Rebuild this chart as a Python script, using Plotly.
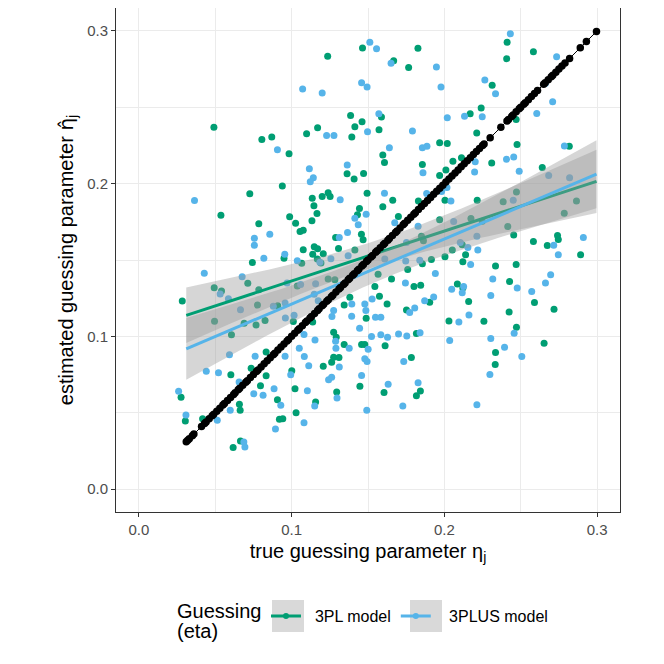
import numpy as np
import plotly.graph_objects as go

# true vs estimated guessing parameter
pl3_true = [0.1464, 0.1236, 0.0491, 0.0805, 0.0870, 0.0983, 0.1098, 0.1170, 0.1386, 0.1414,
            0.1461, 0.1394, 0.1363, 0.1409, 0.1471, 0.0939, 0.0726, 0.0537, 0.1135, 0.1146,
            0.1200, 0.1239, 0.1252, 0.1166, 0.1133, 0.0987, 0.1026, 0.0785, 0.1055, 0.1076,
            0.1288, 0.1457, 0.1468, 0.1444, 0.1431, 0.1494, 0.1076, 0.1148, 0.1170, 0.1307,
            0.1414, 0.1138, 0.0950, 0.0743, 0.1827, 0.1668, 0.1766, 0.2411, 0.2408, 0.2583,
            0.2313, 0.2241, 0.2169, 0.1588, 0.1572, 0.2212, 0.2476, 0.1969, 0.2019, 0.1597,
            0.1608, 0.1856, 0.2056, 0.2112, 0.2310, 0.2470, 0.2818, 0.2641, 0.1969, 0.2010,
            0.1662, 0.1597, 0.1699, 0.1830, 0.2004, 0.2215, 0.1969, 0.2174, 0.2472, 0.2385,
            0.2785, 0.2865, 0.2415, 0.2454, 0.2583, 0.2741, 0.2746, 0.2674, 0.2892, 0.1850,
            0.1863, 0.2052, 0.2117, 0.2139, 0.2004, 0.1915, 0.2121, 0.2335, 0.2470, 0.0284,
            0.0493, 0.0541, 0.0713, 0.0785, 0.1037, 0.0776, 0.0909, 0.0495, 0.0689, 0.0767,
            0.0826, 0.1011, 0.1138, 0.0606, 0.1283, 0.1239, 0.1381, 0.1344, 0.1275, 0.1292,
            0.1344, 0.1458, 0.1479, 0.1275, 0.1310, 0.1262, 0.1207, 0.0833, 0.0735, 0.0833,
            0.0602, 0.0796, 0.1022, 0.1295, 0.1447, 0.0276, 0.0907, 0.0658, 0.0663, 0.1157,
            0.1029, 0.0920, 0.0942, 0.0304, 0.0417, 0.0665, 0.0617, 0.1066, 0.1168, 0.1192,
            0.1488, 0.1001, 0.2030, 0.1612, 0.1605, 0.1856, 0.1760, 0.2427, 0.2085, 0.2121,
            0.1801, 0.1845, 0.1575, 0.1625, 0.1545, 0.1654, 0.1752, 0.1904, 0.2159, 0.2590,
            0.2718, 0.2424, 0.2259, 0.2472, 0.1817, 0.1784, 0.2335, 0.2333, 0.2653, 0.1817,
            0.1843, 0.1566, 0.1207, 0.2248]
pl3_est = [0.2888, 0.2834, 0.2370, 0.2289, 0.2305, 0.2196, 0.2327, 0.2366, 0.2446, 0.2372,
           0.2405, 0.2305, 0.2065, 0.2031, 0.2067, 0.1985, 0.1933, 0.1793, 0.1904, 0.1855,
           0.1915, 0.1941, 0.1915, 0.1804, 0.1757, 0.1783, 0.1741, 0.1737, 0.1687, 0.1695,
           0.1647, 0.1669, 0.1633, 0.1837, 0.1796, 0.1937, 0.1567, 0.1587, 0.1574, 0.1576,
           0.1565, 0.1538, 0.1512, 0.1484, 0.2886, 0.2805, 0.2760, 0.2925, 0.2818, 0.2864,
           0.2645, 0.2496, 0.2457, 0.2436, 0.2353, 0.2331, 0.2257, 0.2268, 0.2263, 0.2188,
           0.2139, 0.2126, 0.2146, 0.2170, 0.2135, 0.2420, 0.2244, 0.2105, 0.2054, 0.2090,
           0.1891, 0.1848, 0.1785, 0.1887, 0.1891, 0.1891, 0.1763, 0.1772, 0.1946, 0.1881,
           0.1806, 0.1887, 0.1719, 0.1663, 0.1621, 0.1661, 0.1634, 0.1595, 0.1535, 0.1656,
           0.1626, 0.1565, 0.1600, 0.1535, 0.1522, 0.1504, 0.1489, 0.1460, 0.1471, 0.1232,
           0.1319, 0.1297, 0.1347, 0.1306, 0.1329, 0.1205, 0.1201, 0.1099, 0.1086, 0.1075,
           0.1104, 0.1097, 0.1094, 0.1010, 0.1371, 0.1375, 0.1256, 0.1205, 0.1027, 0.0994,
           0.0947, 0.0947, 0.0947, 0.0864, 0.0862, 0.0831, 0.0805, 0.0897, 0.0792, 0.0742,
           0.0748, 0.0677, 0.0657, 0.0635, 0.0673, 0.0601, 0.0585, 0.0555, 0.0516, 0.0570,
           0.0500, 0.0457, 0.0461, 0.0446, 0.0461, 0.0315, 0.0272, 0.1478, 0.1506, 0.1480,
           0.1119, 0.0775, 0.1101, 0.0938, 0.0633, 0.1476, 0.1437, 0.1360, 0.1343, 0.1317,
           0.1326, 0.1334, 0.1262, 0.1212, 0.1327, 0.1375, 0.1173, 0.1223, 0.1228, 0.1221,
           0.1177, 0.1160, 0.1099, 0.1060, 0.1019, 0.0862, 0.0895, 0.0816, 0.0955, 0.0611,
           0.0642, 0.1406, 0.1541, 0.1754]

plus_true = [0.1512, 0.1072, 0.1200, 0.1458, 0.1494, 0.1229, 0.1277, 0.0907, 0.1497, 0.1116,
             0.1142, 0.1122, 0.1364, 0.0364, 0.1318, 0.1488, 0.1414, 0.1436, 0.1366, 0.1312,
             0.0857, 0.0756, 0.0756, 0.0818, 0.0955, 0.1037, 0.1257, 0.1370, 0.2432, 0.1556,
             0.1651, 0.1948, 0.2265, 0.2335, 0.1978, 0.2735, 0.2661, 0.2709, 0.2605, 0.1571,
             0.1791, 0.2019, 0.2132, 0.2248, 0.1640, 0.1856, 0.1886, 0.1860, 0.2202, 0.2198,
             0.2407, 0.2454, 0.2490, 0.2786, 0.1884, 0.1608, 0.1982, 0.2043, 0.2017, 0.2451,
             0.2683, 0.2820, 0.2910, 0.2746, 0.2716, 0.2061, 0.1828, 0.2213, 0.2154, 0.2219,
             0.2104, 0.1752, 0.1610, 0.1675, 0.2172, 0.0428, 0.0676, 0.0532, 0.0586, 0.0665,
             0.0970, 0.0880, 0.0957, 0.0959, 0.1016, 0.1157, 0.1174, 0.1275, 0.1264, 0.1393,
             0.1394, 0.1479, 0.1486, 0.1445, 0.1288, 0.1290, 0.1377, 0.1081, 0.1153, 0.1050,
             0.1083, 0.0957, 0.1112, 0.1312, 0.1479, 0.1494, 0.1242, 0.1262, 0.1458, 0.1297,
             0.1492, 0.0593, 0.0761, 0.0521, 0.0441, 0.0994, 0.0656, 0.0752, 0.0813, 0.0885,
             0.0929, 0.1103, 0.1151, 0.0598, 0.0513, 0.0260, 0.0308, 0.0894, 0.1081, 0.0687,
             0.0694, 0.1527, 0.1549, 0.1584, 0.2095, 0.2161, 0.1523, 0.1584, 0.1628, 0.1700,
             0.1754, 0.1841, 0.2035, 0.2304, 0.2457, 0.2394, 0.2507, 0.1734, 0.2298, 0.1632,
             0.1828, 0.1728, 0.2213, 0.1941, 0.1745, 0.2048, 0.2126, 0.2117, 0.2317, 0.2477,
             0.2572, 0.2662, 0.2696, 0.2304, 0.1930, 0.1871, 0.1806, 0.1773, 0.1185, 0.1747,
             0.1839, 0.1148, 0.1059, 0.1501]
plus_est = [0.2925, 0.2620, 0.2594, 0.2660, 0.2633, 0.2315, 0.2315, 0.2222, 0.2340, 0.2098,
            0.2039, 0.2013, 0.2122, 0.1889, 0.1894, 0.1800, 0.1773, 0.1730, 0.1680, 0.1647,
            0.1669, 0.1643, 0.1597, 0.1512, 0.1538, 0.1495, 0.1508, 0.1528, 0.2981, 0.2883,
            0.2788, 0.2764, 0.2679, 0.2588, 0.2632, 0.2831, 0.2655, 0.2536, 0.2459, 0.2457,
            0.2344, 0.2431, 0.2442, 0.2438, 0.2235, 0.2235, 0.2244, 0.2072, 0.2144, 0.2076,
            0.2159, 0.2174, 0.2081, 0.2246, 0.1935, 0.1937, 0.1948, 0.1887, 0.1974, 0.1891,
            0.2054, 0.2039, 0.1647, 0.1535, 0.1597, 0.1752, 0.1721, 0.1656, 0.1582, 0.1565,
            0.1615, 0.1615, 0.1506, 0.1744, 0.1471, 0.1413, 0.1391, 0.1277, 0.1247, 0.1175,
            0.1349, 0.1197, 0.1219, 0.1121, 0.1138, 0.1345, 0.1234, 0.1169, 0.1130, 0.1132,
            0.1212, 0.1212, 0.1169, 0.1053, 0.0968, 0.0922, 0.0922, 0.1012, 0.0977, 0.0922,
            0.0868, 0.0870, 0.0807, 0.0799, 0.0853, 0.0836, 0.0716, 0.0733, 0.0744, 0.0596,
            0.0516, 0.0879, 0.0870, 0.0761, 0.0771, 0.0748, 0.0701, 0.0624, 0.0614, 0.0657,
            0.0549, 0.0644, 0.0544, 0.0516, 0.0451, 0.0640, 0.0485, 0.0394, 0.0435, 0.0309,
            0.0276, 0.1244, 0.1125, 0.1125, 0.1094, 0.1140, 0.0999, 0.1010, 0.0994, 0.1016,
            0.1003, 0.1023, 0.0973, 0.0986, 0.1020, 0.0929, 0.0868, 0.0836, 0.0751, 0.0686,
            0.0696, 0.0544, 0.0553, 0.1411, 0.1349, 0.1308, 0.1326, 0.1286, 0.1375, 0.1317,
            0.1293, 0.1349, 0.1404, 0.1267, 0.1258, 0.1234, 0.1186, 0.1156, 0.1486, 0.1493,
            0.1499, 0.1275, 0.1340, 0.0916]

# generating values (true = true), drawn as the reference diagonal
true_eta = [0.031, 0.032, 0.033, 0.035, 0.036, 0.041, 0.043, 0.044, 0.046, 0.048,
            0.049, 0.051, 0.053, 0.055, 0.056, 0.058, 0.060, 0.062, 0.063, 0.065,
            0.066, 0.068, 0.070, 0.071, 0.073, 0.075, 0.077, 0.078, 0.080, 0.082,
            0.084, 0.086, 0.088, 0.089, 0.091, 0.093, 0.095, 0.097, 0.098, 0.100,
            0.102, 0.104, 0.105, 0.107, 0.109, 0.110, 0.112, 0.113, 0.115, 0.117,
            0.118, 0.120, 0.121, 0.123, 0.124, 0.126, 0.127, 0.129, 0.131, 0.132,
            0.134, 0.135, 0.137, 0.138, 0.140, 0.141, 0.143, 0.144, 0.146, 0.147,
            0.149, 0.150, 0.152, 0.153, 0.155, 0.156, 0.158, 0.160, 0.161, 0.163,
            0.164, 0.166, 0.168, 0.169, 0.171, 0.173, 0.174, 0.176, 0.178, 0.180,
            0.181, 0.183, 0.185, 0.187, 0.189, 0.191, 0.193, 0.195, 0.197, 0.199,
            0.201, 0.203, 0.205, 0.207, 0.209, 0.211, 0.213, 0.215, 0.217, 0.219,
            0.221, 0.223, 0.225, 0.226, 0.230, 0.237, 0.241, 0.242, 0.244, 0.245,
            0.247, 0.249, 0.250, 0.252, 0.253, 0.255, 0.257, 0.259, 0.261, 0.265,
            0.266, 0.268, 0.270, 0.271, 0.273, 0.275, 0.277, 0.279, 0.282, 0.289,
            0.293, 0.2996]

GREEN = "#009E73"
BLUE = "#56B4E9"
FONT = "Liberation Sans, Arial, sans-serif"
KEY_GREY = "#D9D9D9"


def lm_smooth(x, y, xs, t=1.97):
    # geom_smooth(method = "lm"): fitted line with 95% confidence band
    x = np.asarray(x)
    y = np.asarray(y)
    b, a = np.polyfit(x, y, 1)
    n = len(x)
    resid = y - (a + b * x)
    s = np.sqrt(np.sum(resid ** 2) / (n - 2))
    sxx = np.sum((x - x.mean()) ** 2)
    fit = a + b * xs
    se = s * np.sqrt(1.0 / n + (xs - x.mean()) ** 2 / sxx)
    return fit, fit - t * se, fit + t * se


xs = np.linspace(min(true_eta), max(true_eta), 80)

fig = go.Figure()

fig.add_trace(go.Scatter(x=pl3_true, y=pl3_est, mode="markers",
                         marker=dict(color=GREEN, size=7), showlegend=False))
fig.add_trace(go.Scatter(x=plus_true, y=plus_est, mode="markers",
                         marker=dict(color=BLUE, size=7), showlegend=False))

for xv, yv, col in [(pl3_true, pl3_est, GREEN), (plus_true, plus_est, BLUE)]:
    fit, lo, hi = lm_smooth(xv, yv, xs)
    fig.add_trace(go.Scatter(x=np.concatenate([xs, xs[::-1]]),
                             y=np.concatenate([hi, lo[::-1]]),
                             fill="toself", fillcolor="rgba(153,153,153,0.4)",
                             line=dict(width=0), mode="lines",
                             hoverinfo="skip", showlegend=False))
    fig.add_trace(go.Scatter(x=xs, y=fit, mode="lines",
                             line=dict(color=col, width=3), showlegend=False))

fig.add_trace(go.Scatter(x=true_eta, y=true_eta, mode="lines+markers",
                         line=dict(color="black", width=1),
                         marker=dict(color="black", size=7.5), showlegend=False))

# legend keys
for name, col in [("\u00a0\u00a03PL model", GREEN), ("\u00a0\u00a0\u00a03PLUS model", BLUE)]:
    fig.add_trace(go.Scatter(x=[None], y=[None], mode="lines+markers", name=name,
                             line=dict(color=col, width=3),
                             marker=dict(color=col, size=6)))

axis = dict(range=[-0.015, 0.315], dtick=0.1, tick0=0, tickformat=".1f",
            showgrid=True, gridcolor="#EBEBEB", gridwidth=1.3,
            minor=dict(dtick=0.05, showgrid=True, gridcolor="#EBEBEB", gridwidth=0.7),
            zeroline=False, showline=True, linecolor="#333333", linewidth=1, mirror=True,
            ticks="outside", ticklen=4, tickcolor="#333333",
            tickfont=dict(size=15, color="#4D4D4D"))

ytitle = ("estimated guessing parameter "
          "<span style='font-family:DejaVu Sans'>η\u0302</span><sub>j</sub>")

fig.update_layout(
    width=656, height=656,
    margin=dict(l=108, r=44, t=0, b=152),
    plot_bgcolor="white", paper_bgcolor="white",
    font=dict(family=FONT, color="black"),
    xaxis=dict(axis, title=dict(text="true guessing parameter η<sub>j</sub>",
                                font=dict(size=20), standoff=6)),
    yaxis=dict(axis, title=dict(text=ytitle, font=dict(size=20), standoff=8)),
    legend=dict(orientation="h", x=0.2976, xanchor="left", y=-0.173, yanchor="top",
                bgcolor="rgba(0,0,0,0)", font=dict(size=16), itemwidth=30),
    annotations=[
        dict(text="Guessing", xref="paper", yref="paper", x=0.117, y=-0.196,
             xanchor="left", yanchor="middle", showarrow=False, font=dict(size=20)),
        dict(text="(eta)", xref="paper", yref="paper", x=0.117, y=-0.236,
             xanchor="left", yanchor="middle", showarrow=False, font=dict(size=20)),
    ],
    shapes=[
        dict(type="rect", xref="paper", yref="paper", x0=0.3095, x1=0.373,
             y0=-0.1746, y1=-0.2381, fillcolor=KEY_GREY, line=dict(width=0), layer="above"),
        dict(type="rect", xref="paper", yref="paper", x0=0.5833, x1=0.6468,
             y0=-0.1746, y1=-0.2381, fillcolor=KEY_GREY, line=dict(width=0), layer="above"),
    ],
)

fig.write_html("out.html")
